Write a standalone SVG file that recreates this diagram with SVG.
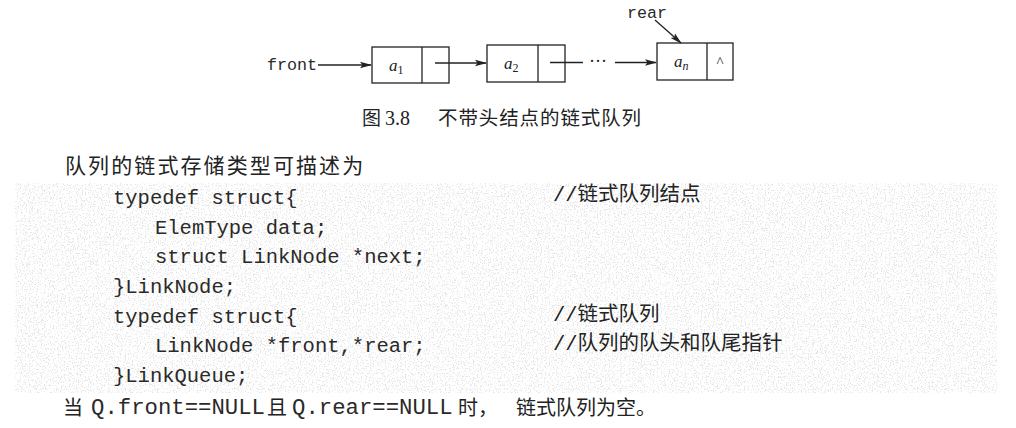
<svg xmlns="http://www.w3.org/2000/svg" width="1016" height="428" viewBox="0 0 1016 428">
<style>
.box{fill:none;stroke:#222;stroke-width:1.3}
.ln{fill:none;stroke:#222;stroke-width:1.3}
.mono{font-family:"Liberation Mono","DejaVu Sans Mono",monospace;fill:#2a2a2a}
.cjk{font-family:"Noto Sans CJK SC",sans-serif;fill:#222}
.ital{font-family:"Liberation Serif",serif;font-style:italic;fill:#222}
.serif{font-family:"Liberation Serif",serif;fill:#222}
.code{font-size:20.5px}
.cmt{font-family:"Liberation Mono","Noto Sans CJK SC",monospace;font-size:20.5px;fill:#222}
</style>
<defs>
<marker id="ah" markerWidth="12" markerHeight="8" refX="11" refY="4" orient="auto" markerUnits="userSpaceOnUse">
<path d="M0,0.8 L12,4 L0,7.2 L2.5,4 z" fill="#222"/>
</marker>
<filter id="grain" x="0" y="0" width="100%" height="100%">
<feTurbulence type="fractalNoise" baseFrequency="0.75" numOctaves="2" seed="3" result="n"/>
<feColorMatrix in="n" type="matrix" values="0 0 0 0 0.45  0 0 0 0 0.45  0 0 0 0 0.45  -9 0 0 0 4.1"/>
</filter>
</defs>
<rect width="1016" height="428" fill="#fff"/>
<rect id="texture" x="15" y="183" width="982" height="210" filter="url(#grain)" opacity="0.3"/>

<g id="connectors">
<line class="ln" x1="318" y1="65" x2="371" y2="65" marker-end="url(#ah)"/>
<line class="ln" x1="435" y1="63" x2="486" y2="63" marker-end="url(#ah)"/>
<line class="ln" x1="550" y1="62.5" x2="583" y2="62.5"/>
<line class="ln" x1="615" y1="62.5" x2="656" y2="62.5" marker-end="url(#ah)"/>
<line class="ln" x1="655" y1="20" x2="681" y2="43" marker-end="url(#ah)"/>
</g>

<g id="front"><text class="mono" x="267" y="70" font-size="16.7">front</text></g>
<g id="rear"><text class="mono" x="627" y="18" font-size="16.7">rear</text></g>

<g id="node-a1">
<rect class="box" x="372" y="47" width="77" height="36"/>
<line class="ln" x1="422" y1="47" x2="422" y2="83"/>
<text class="ital" x="389" y="71" font-size="17">a<tspan font-style="normal" font-size="12" dy="3">1</tspan></text>
</g>
<g id="node-a2">
<rect class="box" x="487" y="45" width="78" height="37"/>
<line class="ln" x1="538" y1="45" x2="538" y2="82"/>
<text class="ital" x="504" y="69" font-size="17">a<tspan font-style="normal" font-size="12" dy="3">2</tspan></text>
</g>
<g id="ellipsis"><text class="serif" x="589" y="67" font-size="18">···</text></g>
<g id="node-an">
<rect class="box" x="657" y="43" width="76" height="37"/>
<line class="ln" x1="707" y1="43" x2="707" y2="80"/>
<text class="ital" x="674" y="67" font-size="17">a<tspan font-size="12" dy="3">n</tspan></text>
<text class="serif" x="720" y="67" font-size="15" text-anchor="middle">^</text>
</g>

<g id="caption">
<text class="cjk" x="362" y="125" font-size="19">图</text>
<text class="serif" x="385" y="125" font-size="20">3.8</text>
<text class="cjk" x="438" y="125" font-size="19.5" letter-spacing="0.9">不带头结点的链式队列</text>
</g>

<g id="heading"><text class="cjk" x="65" y="173" font-size="21" letter-spacing="2.1">队列的链式存储类型可描述为</text></g>

<g id="code">
<text class="mono code" x="113" y="204">typedef struct{</text>
<text class="mono code" x="155" y="234">ElemType data;</text>
<text class="mono code" x="155" y="263">struct LinkNode *next;</text>
<text class="mono code" x="113" y="293">}LinkNode;</text>
<text class="mono code" x="113" y="323">typedef struct{</text>
<text class="mono code" x="155" y="352">LinkNode *front,*rear;</text>
<text class="mono code" x="113" y="382">}LinkQueue;</text>
</g>

<g id="comments">
<text class="cmt" x="553" y="201">//链式队列结点</text>
<text class="cmt" x="553" y="321">//链式队列</text>
<text class="cmt" x="553" y="350">//队列的队头和队尾指针</text>
</g>

<g id="footer">
<text class="cjk" x="63" y="415" font-size="20">当</text>
<text class="mono" x="91" y="414" font-size="22.3">Q.front==NULL</text>
<text class="cjk" x="267" y="415" font-size="20">且</text>
<text class="mono" x="292" y="414" font-size="22.3">Q.rear==NULL</text>
<text class="cjk" x="458" y="415" font-size="20">时，</text>
<text class="cjk" x="516" y="415" font-size="20">链式队列为空。</text>
</g>
</svg>
